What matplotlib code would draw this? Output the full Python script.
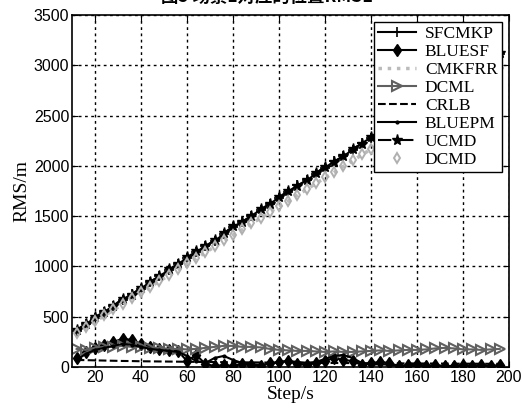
import matplotlib
matplotlib.use('Agg')
import matplotlib.pyplot as plt
import numpy as np

steps = list(range(12, 200, 4))

# curves that grow with time
ucmd = [370, 430, 500, 545, 610, 680, 720, 790, 850, 900, 970, 1020, 1090, 1150, 1200, 1260,
        1330, 1400, 1440, 1500, 1570, 1620, 1690, 1750, 1800, 1860, 1930, 1990, 2040, 2100,
        2170, 2220, 2290, 2350, 2400, 2460, 2520, 2580, 2640, 2690, 2760, 2820, 2870, 2930,
        2990, 3050, 3120]
sfcmkp = [360, 425, 490, 550, 605, 670, 725, 780, 845, 905, 960, 1025, 1080, 1140, 1205, 1255,
          1320, 1390, 1445, 1505, 1560, 1625, 1680, 1745, 1805, 1855, 1920, 1980, 2045, 2095,
          2160, 2225, 2280, 2345, 2405, 2455, 2515, 2585, 2635, 2695, 2750, 2815, 2875, 2925,
          2985, 3045, 3110]
cmkfrr = [330, 390, 450, 510, 565, 625, 680, 740, 795, 855, 910, 965, 1025, 1080, 1140, 1195,
          1255, 1310, 1365, 1425, 1480, 1540, 1595, 1650, 1710, 1765, 1825, 1880, 1935, 1995,
          2050, 2110, 2165, 2220, 2280, 2335, 2395, 2450, 2505, 2565, 2620, 2680, 2735, 2790,
          2850, 2905, 2965]
dcmd = [340, 400, 460, 515, 575, 630, 690, 745, 800, 860, 915, 975, 1030, 1085, 1145, 1200,
        1260, 1315, 1370, 1430, 1485, 1545, 1600, 1655, 1715, 1770, 1830, 1885, 1940, 2000,
        2055, 2115, 2170, 2225, 2285, 2340, 2400, 2455, 2510, 2570, 2625, 2685, 2740, 2795,
        2855, 2910, 2970]

# curves that stay low
bluesf = [90, 150, 190, 220, 250, 280, 270, 230, 200, 180, 170, 160, 60, 120, 30, 10, 20, 10,
          30, 20, 10, 40, 50, 60, 30, 20, 40, 60, 90, 70, 60, 20, 40, 50, 40, 10, 20, 30, 10,
          20, 10, 10, 20, 10, 20, 10, 20]
bluepm = [70, 130, 170, 190, 210, 230, 220, 200, 180, 170, 160, 150, 110, 60, 40, 90, 110, 70,
          40, 30, 20, 30, 50, 60, 50, 40, 50, 80, 110, 120, 90, 40, 20, 30, 20, 10, 10, 10, 10,
          10, 10, 10, 10, 10, 10, 10, 10]
crlb = [70, 68, 66, 64, 62, 60, 59, 57, 56, 55, 54, 53, 52, 51, 50, 49, 48, 47, 46, 46, 45, 44,
        44, 43, 42, 42, 41, 40, 40, 39, 39, 38, 38, 37, 37, 36, 36, 35, 35, 34, 34, 33, 33, 33,
        32, 32, 31]
dcml = [180, 170, 190, 200, 200, 210, 200, 200, 190, 190, 180, 180, 175, 180, 190, 200, 210,
        210, 200, 200, 195, 180, 170, 165, 160, 160, 155, 150, 155, 150, 150, 155, 160, 165,
        160, 165, 170, 170, 175, 185, 190, 185, 175, 175, 170, 175, 180]

fig = plt.figure(figsize=(5.22, 4.09), dpi=100)
ax = fig.add_axes([0.138, 0.1027, 0.837, 0.8606])

ax.plot(steps, sfcmkp, '-', color='k', lw=1.5, marker='+', ms=7, mew=1.2, label='SFCMKP')
ax.plot(steps, bluesf, '-', color='k', lw=1.5, marker='d', ms=6, mfc='k', label='BLUESF')
ax.plot(steps, cmkfrr, ':', color='#bbbbbb', lw=2.5, label='CMKFRR')
ax.plot(steps, dcml, '-', color='#606060', lw=1.5, marker='>', ms=7, mfc='none', mew=1.5,
        label='DCML')
ax.plot(steps, crlb, '--', color='k', lw=1.5, label='CRLB')
ax.plot(steps, bluepm, '-', color='k', lw=1.5, marker='.', ms=4, label='BLUEPM')
ax.plot(steps, ucmd, '-.', color='k', lw=1.5, marker='*', ms=8, label='UCMD')
ax.plot(steps, dcmd, color='#b0b0b0', marker='d', ms=5.5, mfc='none', mew=1.4,
        linestyle='none', label='DCMD')

ax.set_xlim(10, 200)
ax.set_ylim(0, 3500)
ax.set_xticks(range(20, 201, 20))
ax.set_yticks(range(0, 3501, 500))
ax.tick_params(direction='in', labelsize=11.5, length=4, color='k', top=True, right=True,
               pad=2)
for lab in ax.get_xticklabels() + ax.get_yticklabels():
    lab.set_family('Liberation Sans')
ax.grid(True, linestyle=(0, (2, 2.5)), color='k', lw=1)
for sp in ax.spines.values():
    sp.set_linewidth(1.2)

ax.set_xlabel('Step/s', family='Liberation Serif', fontsize=14, labelpad=1)
ax.set_ylabel('RMS/m', family='Liberation Serif', fontsize=14)
ax.yaxis.set_label_coords(-0.096, 0.5)

leg = ax.legend(loc='upper right', prop={'family': 'Liberation Serif', 'size': 12.5},
                fancybox=False, framealpha=1, edgecolor='k', borderaxespad=0.4,
                labelspacing=0.1, handlelength=2.2, handletextpad=0.5, borderpad=0.25)
leg.get_frame().set_linewidth(1.0)

fig.text(0.512, 0.994, '图5 场景1对应的位置RMSE', ha='center', va='baseline',
         fontsize=12.5, fontweight='bold', family=['Noto Sans CJK SC', 'DejaVu Sans'])

fig.savefig('out.png', dpi=100)
